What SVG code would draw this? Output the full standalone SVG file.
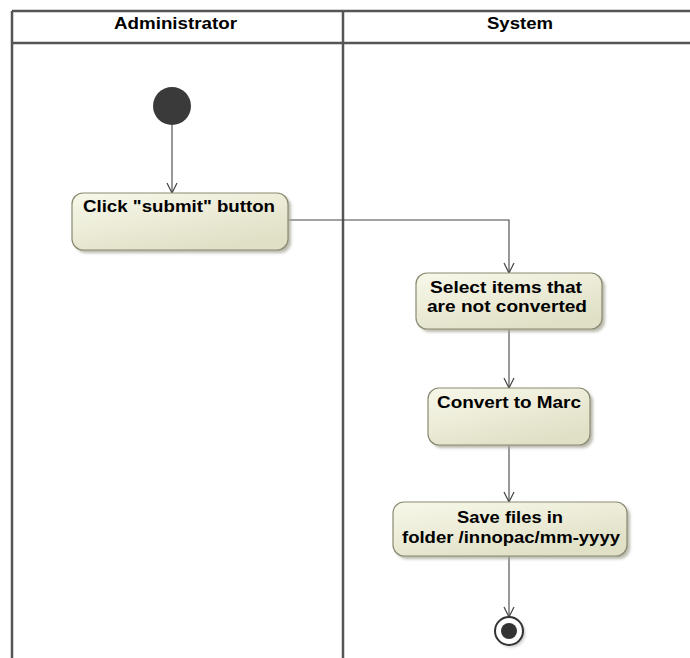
<svg xmlns="http://www.w3.org/2000/svg" width="690" height="658" viewBox="0 0 690 658">
  <defs>
    <linearGradient id="actFill" x1="0" y1="0" x2="0.6" y2="1">
      <stop offset="0" stop-color="#f8f8ea"/>
      <stop offset="1" stop-color="#e0e0c6"/>
    </linearGradient>
    <filter id="shadow" x="-10%" y="-10%" width="130%" height="140%">
      <feGaussianBlur stdDeviation="1.5"/>
    </filter>
    <marker id="open" viewBox="0 0 12 12" refX="11" refY="6" markerWidth="12" markerHeight="12" markerUnits="userSpaceOnUse" orient="auto">
      <path d="M1,1 L11,6 L1,11" fill="none" stroke="#444" stroke-width="1.2"/>
    </marker>
  </defs>
  <style>
    .lane { stroke: #555; stroke-width: 2.5; fill: none; }
    .hdr { font-family: "Liberation Sans", Arial, sans-serif; font-weight: bold; font-size: 16px; fill: #000; text-anchor: middle; }
    .lbl { font-family: "Liberation Sans", Arial, sans-serif; font-weight: bold; font-size: 17px; fill: #000; text-anchor: middle; }
    .act { fill: url(#actFill); stroke: #8a8a72; stroke-width: 1.2; }
    .shd { fill: #a8a898; filter: url(#shadow); opacity: 0.8; }
    .edge { stroke: #444; stroke-width: 1.1; fill: none; marker-end: url(#open); }
  </style>
  <rect x="0" y="0" width="690" height="658" fill="#ffffff"/>

  <g id="swimlanes">
    <line class="lane" x1="12" y1="11" x2="690" y2="11"/>
    <line class="lane" x1="12" y1="43" x2="690" y2="43"/>
    <line class="lane" x1="12" y1="11" x2="12" y2="658"/>
    <line class="lane" x1="343" y1="11" x2="343" y2="658"/>
    <text class="hdr" x="175.5" y="29" textLength="123" lengthAdjust="spacingAndGlyphs">Administrator</text>
    <text class="hdr" x="520" y="29" textLength="66" lengthAdjust="spacingAndGlyphs">System</text>
  </g>

  <g id="connectors">
    <line class="edge" x1="172" y1="125" x2="172" y2="193"/>
    <polyline class="edge" points="288,220 509,220 509,273"/>
    <line class="edge" x1="509" y1="329" x2="509" y2="388"/>
    <line class="edge" x1="509" y1="445" x2="509" y2="502"/>
    <line class="edge" x1="509" y1="556" x2="509" y2="617"/>
  </g>

  <g id="initial">
    <circle cx="172" cy="106" r="19" fill="#3a3a3a"/>
  </g>

  <g id="click-submit">
    <rect class="shd" x="75" y="196" width="216" height="57" rx="11"/>
    <rect class="act" x="72" y="193" width="216" height="57" rx="11"/>
    <text class="lbl" x="179" y="212" textLength="192" lengthAdjust="spacingAndGlyphs">Click "submit" button</text>
  </g>

  <g id="select-items">
    <rect class="shd" x="419" y="276" width="186" height="56" rx="11"/>
    <rect class="act" x="416" y="273" width="186" height="56" rx="11"/>
    <text class="lbl" x="506" y="293" textLength="152" lengthAdjust="spacingAndGlyphs">Select items that</text>
    <text class="lbl" x="507" y="312" textLength="160" lengthAdjust="spacingAndGlyphs">are not converted</text>
  </g>

  <g id="convert-marc">
    <rect class="shd" x="431" y="391" width="162" height="57" rx="11"/>
    <rect class="act" x="428" y="388" width="162" height="57" rx="11"/>
    <text class="lbl" x="509" y="408" textLength="144" lengthAdjust="spacingAndGlyphs">Convert to Marc</text>
  </g>

  <g id="save-files">
    <rect class="shd" x="396" y="505" width="234" height="54" rx="11"/>
    <rect class="act" x="393" y="502" width="234" height="54" rx="11"/>
    <text class="lbl" x="510" y="523" textLength="106" lengthAdjust="spacingAndGlyphs">Save files in</text>
    <text class="lbl" x="511" y="543" textLength="218" lengthAdjust="spacingAndGlyphs">folder /innopac/mm-yyyy</text>
  </g>

  <g id="final">
    <circle cx="511" cy="633" r="14" fill="#999" filter="url(#shadow)" opacity="0.6"/>
    <circle cx="509" cy="631" r="14" fill="#ffffff" stroke="#333" stroke-width="2"/>
    <circle cx="509" cy="631" r="8" fill="#333"/>
  </g>
</svg>
